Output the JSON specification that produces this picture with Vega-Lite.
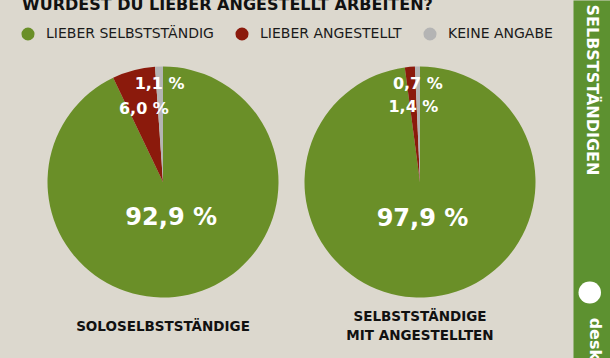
{
  "$schema": "https://vega.github.io/schema/vega-lite/v6.json",
  "width": 610,
  "height": 358,
  "autosize": "none",
  "padding": 0,
  "background": "#dcd8ce",
  "config": {"view": {"stroke": null}, "font": "DejaVu Sans"},
  "title": {
    "text": "WÜRDEST DU LIEBER ANGESTELLT ARBEITEN?",
    "anchor": "start", "frame": "group", "orient": "top",
    "offset": -26, "dx": 22, "baseline": "alphabetic",
    "fontSize": 16, "fontWeight": "bold", "color": "#111111", "font": "DejaVu Sans"
  },
  "data": {"values": [
    {"gruppe": "solo", "name": "SOLOSELBSTSTÄNDIGE", "antwort": "LIEBER SELBSTSTÄNDIG", "ord": 1, "wert": 92.9, "label": "92,9 %"},
    {"gruppe": "solo", "name": "SOLOSELBSTSTÄNDIGE", "antwort": "LIEBER ANGESTELLT", "ord": 2, "wert": 6.0, "label": "6,0 %"},
    {"gruppe": "solo", "name": "SOLOSELBSTSTÄNDIGE", "antwort": "KEINE ANGABE", "ord": 3, "wert": 1.1, "label": "1,1 %"},
    {"gruppe": "mit", "name": "SELBSTSTÄNDIGE\nMIT ANGESTELLTEN", "antwort": "LIEBER SELBSTSTÄNDIG", "ord": 1, "wert": 97.9, "label": "97,9 %"},
    {"gruppe": "mit", "name": "SELBSTSTÄNDIGE\nMIT ANGESTELLTEN", "antwort": "LIEBER ANGESTELLT", "ord": 2, "wert": 1.4, "label": "1,4 %"},
    {"gruppe": "mit", "name": "SELBSTSTÄNDIGE\nMIT ANGESTELLTEN", "antwort": "KEINE ANGABE", "ord": 3, "wert": 0.7, "label": "0,7 %"}
  ]},
  "encoding": {
    "x": {"field": "gruppe", "type": "nominal", "sort": ["solo", "mit"], "scale": {"type": "point", "range": [163, 420], "padding": 0}, "axis": null}
  },
  "resolve": {"axis": {"y": "independent"}},
  "layer": [
    {
      "transform": [
        {"stack": "wert", "groupby": ["gruppe"], "sort": [{"field": "ord", "order": "ascending"}], "as": ["t0", "t1"]}
      ],
      "mark": {"type": "arc", "outerRadius": 115.5, "yOffset": 3},
      "encoding": {
        "theta": {"field": "t0", "type": "quantitative", "scale": {"domain": [0, 100]}},
        "theta2": {"field": "t1"},
        "color": {
          "field": "antwort", "type": "nominal",
          "scale": {"domain": ["LIEBER SELBSTSTÄNDIG", "LIEBER ANGESTELLT", "KEINE ANGABE"], "range": ["#6a8f28", "#8b1a0c", "#b4b4b4"]},
          "legend": {
            "orient": "none", "legendX": 21, "legendY": 27, "direction": "horizontal", "title": null,
            "symbolType": "circle", "symbolSize": 170, "symbolStrokeWidth": 0, "symbolOpacity": 1,
            "labelFontSize": 14, "labelColor": "#1a1a1a", "labelOffset": 11, "columnPadding": 21, "labelLimit": 0, "labelFont": "DejaVu Sans"
          }
        }
      }
    },
    {
      "transform": [{"filter": "datum.gruppe === 'solo'"}],
      "mark": {"type": "text", "fontWeight": "bold", "color": "white", "yOffset": 3, "radius": 37, "fontSize": 24},
      "encoding": {
        "theta": {"field": "wert", "type": "quantitative", "stack": true, "scale": {"domain": [0, 100]}},
        "order": {"field": "ord", "type": "quantitative"},
        "detail": {"field": "antwort"},
        "text": {"condition": {"test": "datum.ord === 1", "field": "label"}, "value": ""}
      }
    },
    {
      "transform": [{"filter": "datum.gruppe === 'solo'"}],
      "mark": {"type": "text", "fontWeight": "bold", "color": "white", "yOffset": 3, "radius": 75, "fontSize": 16},
      "encoding": {
        "theta": {"field": "wert", "type": "quantitative", "stack": true, "scale": {"domain": [0, 100]}},
        "order": {"field": "ord", "type": "quantitative"},
        "detail": {"field": "antwort"},
        "text": {"condition": {"test": "datum.ord === 2", "field": "label"}, "value": ""}
      }
    },
    {
      "transform": [{"filter": "datum.gruppe === 'solo'"}],
      "mark": {"type": "text", "fontWeight": "bold", "color": "white", "yOffset": 3, "radius": 98, "fontSize": 16},
      "encoding": {
        "theta": {"field": "wert", "type": "quantitative", "stack": true, "scale": {"domain": [0, 100]}},
        "order": {"field": "ord", "type": "quantitative"},
        "detail": {"field": "antwort"},
        "text": {"condition": {"test": "datum.ord === 3", "field": "label"}, "value": ""}
      }
    },
    {
      "transform": [{"filter": "datum.gruppe === 'mit'"}],
      "mark": {"type": "text", "fontWeight": "bold", "color": "white", "yOffset": 3, "radius": 37, "fontSize": 24},
      "encoding": {
        "theta": {"field": "wert", "type": "quantitative", "stack": true, "scale": {"domain": [0, 100]}},
        "order": {"field": "ord", "type": "quantitative"},
        "detail": {"field": "antwort"},
        "text": {"condition": {"test": "datum.ord === 1", "field": "label"}, "value": ""}
      }
    },
    {
      "transform": [{"filter": "datum.gruppe === 'mit'"}],
      "mark": {"type": "text", "fontWeight": "bold", "color": "white", "yOffset": 3, "radius": 75, "fontSize": 16},
      "encoding": {
        "theta": {"field": "wert", "type": "quantitative", "stack": true, "scale": {"domain": [0, 100]}},
        "order": {"field": "ord", "type": "quantitative"},
        "detail": {"field": "antwort"},
        "text": {"condition": {"test": "datum.ord === 2", "field": "label"}, "value": ""}
      }
    },
    {
      "transform": [{"filter": "datum.gruppe === 'mit'"}],
      "mark": {"type": "text", "fontWeight": "bold", "color": "white", "yOffset": 3, "radius": 98, "fontSize": 16},
      "encoding": {
        "theta": {"field": "wert", "type": "quantitative", "stack": true, "scale": {"domain": [0, 100]}},
        "order": {"field": "ord", "type": "quantitative"},
        "detail": {"field": "antwort"},
        "text": {"condition": {"test": "datum.ord === 3", "field": "label"}, "value": ""}
      }
    },
    {
      "transform": [{"filter": "datum.ord === 1 && datum.gruppe === 'solo'"}],
      "mark": {"type": "text", "align": "center", "baseline": "middle", "dy": -31, "fontWeight": "bold", "fontSize": 13.5, "color": "#111111"},
      "encoding": {
        "text": {"field": "name"},
        "y": {
          "datum": 0, "type": "quantitative", "scale": {"domain": [0, 1]},
          "axis": {
            "orient": "right", "offset": -18.5, "grid": false, "zindex": 1,
            "domain": true, "domainColor": "#5d9130", "domainWidth": 37, "domainCap": "butt",
            "ticks": false, "labels": false,
            "title": "SELBSTSTÄNDIGEN", "titleColor": "white", "titleFontSize": 16, "titleFontWeight": "bold",
            "titleAngle": 90, "titleAlign": "left", "titleBaseline": "middle", "titleX": 0, "titleY": 4
          }
        }
      }
    },
    {
      "transform": [{"filter": "datum.ord === 1 && datum.gruppe === 'mit'"}],
      "mark": {"type": "text", "align": "center", "baseline": "middle", "dy": -41, "lineBreak": "\n", "lineHeight": 19, "fontWeight": "bold", "fontSize": 13.5, "color": "#111111"},
      "encoding": {
        "text": {"field": "name"},
        "y": {
          "datum": 0, "type": "quantitative", "scale": {"domain": [0, 1]},
          "axis": {
            "orient": "right", "offset": -21, "grid": false, "zindex": 2, "domain": false,
            "values": [0.184], "ticks": true, "tickSize": 0.5, "tickWidth": 22, "tickColor": "white", "tickCap": "round",
            "labelExpr": "'deskmag'", "labelAngle": 90, "labelAlign": "left", "labelBaseline": "middle",
            "labelOffset": 25, "labelPadding": 4.5, "labelColor": "white", "labelFontSize": 16, "labelFontWeight": "bold",
            "labelFlush": false, "labelOverlap": false, "labelBound": false,
            "title": null
          }
        }
      }
    }
  ]
}
